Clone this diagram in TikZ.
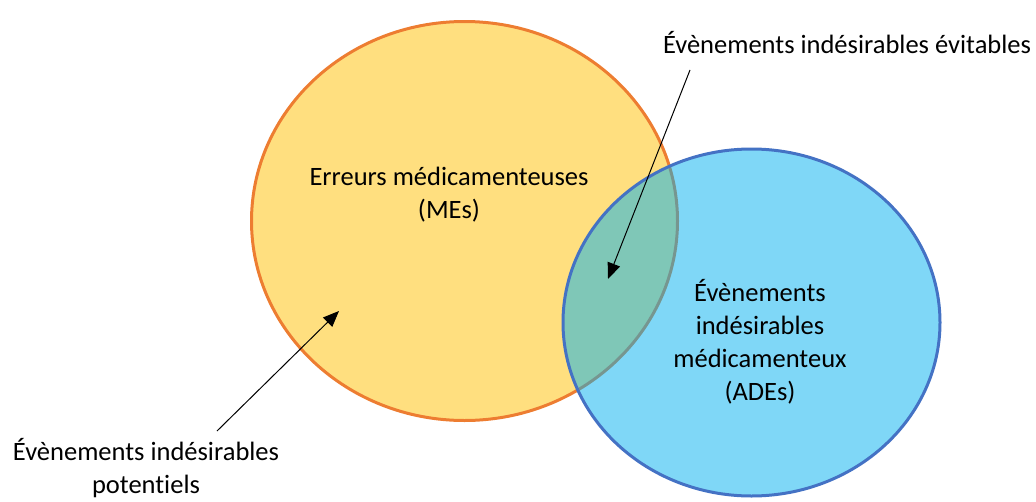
\documentclass[tikz,border=0pt]{standalone}
\usepackage{fontspec}
\setmainfont[Ligatures={NoCommon}]{Carlito}
\usetikzlibrary{shapes.geometric,arrows.meta}
\definecolor{yfill}{RGB}{255,192,0}
\definecolor{bfill}{RGB}{0,176,240}
\definecolor{oline}{RGB}{237,125,49}
\definecolor{bline}{RGB}{68,114,196}
\tikzset{
  setbox/.style={ellipse, inner sep=0pt, line width=3pt, fill opacity=0.5, draw opacity=1},
  lbl/.style={align=center, font=\fontsize{26.5}{33}\selectfont, inner sep=0pt},
  pointer/.style={-{Triangle[length=16pt,width=13pt]}, line width=1pt, black}
}
\begin{document}
\begin{tikzpicture}[x=1pt,y=-1pt]
\useasboundingbox (0,0) rectangle (1036,501);
\node[setbox, draw=oline, fill=yfill, minimum width=426pt, minimum height=399pt] (me) at (464.5,221) {};
\node[setbox, draw=bline, fill=bfill, minimum width=377pt, minimum height=347pt] (ade) at (751.5,322.5) {};
\node[lbl] (metext) at (449,195) {Erreurs médicamenteuses\\(MEs)};
\node[lbl] (adetext) at (760,342) {Évènements\\indésirables\\médicamenteux\\(ADEs)};
\node[lbl] (evit) at (847,43) {Évènements indésirables évitables};
\node[lbl] (pot) at (146,468) {Évènements indésirables\\potentiels};
\coordinate (s1) at (690,70);
\coordinate (t1) at (608,279);
\coordinate (s2) at (217,431);
\coordinate (t2) at (339,311);
\draw[pointer] (s1) -- (t1);
\draw[pointer] (s2) -- (t2);
\end{tikzpicture}
\end{document}
